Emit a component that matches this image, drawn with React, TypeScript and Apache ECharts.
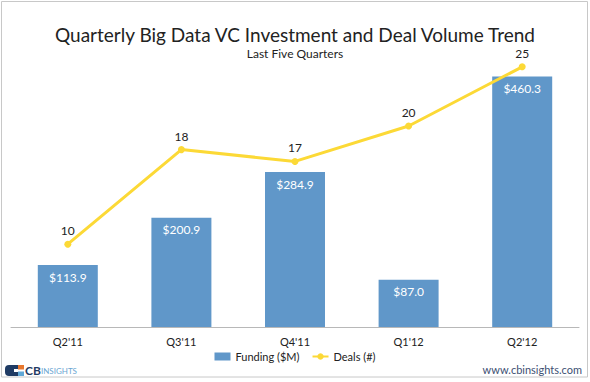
import React, { useEffect, useRef } from "react";
import * as echarts from "echarts";

const quarters = ["Q2'11", "Q3'11", "Q4'11", "Q1'12", "Q2'12"];
const funding = [113.9, 200.9, 284.9, 87.0, 460.3];
const deals = [10, 18, 17, 20, 25];

const FONT = "Lato, 'Open Sans', sans-serif";

export default function App() {
  const ref = useRef<HTMLDivElement>(null);
  useEffect(() => {
    document.body.style.margin = "0";
    if (!ref.current) return;
    const chart = echarts.init(ref.current, null, { renderer: "svg" });
    chart.setOption({
      animation: false,
      backgroundColor: "#ffffff",
      textStyle: { fontFamily: FONT },
      title: {
        text: "Quarterly Big Data VC Investment and Deal Volume Trend",
        subtext: "Last Five Quarters",
        left: "center",
        top: 20,
        itemGap: 3,
        textStyle: { fontFamily: FONT, fontSize: 19, fontWeight: "normal", color: "#222" },
        subtextStyle: { fontFamily: FONT, fontSize: 12, color: "#222" },
      },
      legend: {
        bottom: 15,
        left: "center",
        itemWidth: 16,
        itemHeight: 8,
        itemGap: 12,
        textStyle: { fontFamily: FONT, fontSize: 11, color: "#222" },
        data: [
          { name: "Funding ($M)", icon: "rect" },
          { name: "Deals (#)" },
        ],
      },
      grid: { left: 11, right: 11, top: 55, bottom: 55, containLabel: false },
      xAxis: {
        type: "category",
        data: quarters,
        axisLine: { lineStyle: { color: "#b8b8b8", width: 1 } },
        axisTick: { show: false },
        axisLabel: { fontFamily: FONT, fontSize: 11, color: "#222", margin: 9 },
      },
      yAxis: [
        { type: "value", min: 0, max: 500, show: false, splitLine: { show: false } },
        { type: "value", min: 3, max: 26, show: false, splitLine: { show: false } },
      ],
      series: [
        {
          name: "Funding ($M)",
          type: "bar",
          data: funding,
          barWidth: 60,
          itemStyle: { color: "#6097c9" },
          label: {
            show: true,
            position: "insideTop",
            distance: 6,
            color: "#ffffff",
            fontFamily: FONT,
            fontSize: 12,
            formatter: (p: any) => "$" + Number(p.value).toFixed(1),
          },
        },
        {
          name: "Deals (#)",
          type: "line",
          yAxisIndex: 1,
          data: deals,
          symbol: "circle",
          symbolSize: 7,
          lineStyle: { color: "#fcd936", width: 3 },
          itemStyle: { color: "#fcd936" },
          label: {
            show: true,
            position: "top",
            distance: 4,
            color: "#222",
            fontFamily: FONT,
            fontSize: 12,
          },
        },
      ],
      graphic: [
        {
          type: "rect",
          shape: { x: 1.5, y: 1.5, width: 586, height: 375.5 },
          style: { fill: "none", stroke: "#c8c8c8", lineWidth: 1 },
          silent: true,
        },
        {
          type: "rect",
          shape: { x: 5, y: 365, width: 15, height: 11, r: [4, 0, 0, 4] },
          style: { fill: "#1f3b64" },
        },
        {
          type: "rect",
          shape: { x: 14, y: 369, width: 7, height: 3 },
          style: { fill: "#ffffff" },
        },
        {
          type: "rect",
          shape: { x: 18, y: 365, width: 6, height: 4.5 },
          style: { fill: "#e8772e" },
        },
        {
          type: "rect",
          shape: { x: 18, y: 371.5, width: 6, height: 4.5 },
          style: { fill: "#5fa7d6" },
        },
        {
          type: "text",
          left: 25,
          top: 364,
          style: { text: "CB", fill: "#1f3b64", font: "bold 12px " + FONT },
        },
        {
          type: "text",
          left: 41,
          top: 367,
          style: { text: "INSIGHTS", fill: "#6aa6d2", font: "8px " + FONT },
        },
        {
          type: "text",
          right: 8,
          top: 364,
          style: { text: "www.cbinsights.com", fill: "#3d4f73", font: "11px " + FONT },
        },
      ],
    });
    return () => chart.dispose();
  }, []);
  return <div ref={ref} style={{ width: 590, height: 382 }} />;
}
